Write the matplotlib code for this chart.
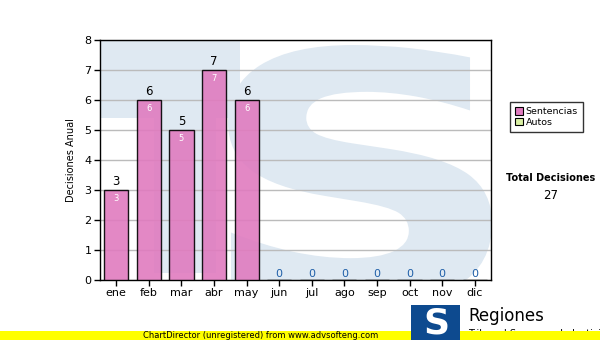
import matplotlib
matplotlib.use('Agg')
import matplotlib.pyplot as plt
from matplotlib.patches import Rectangle, PathPatch
from matplotlib.textpath import TextPath
from matplotlib.font_manager import FontProperties
from matplotlib.transforms import Affine2D

meses = ['ene', 'feb', 'mar', 'abr', 'may', 'jun', 'jul', 'ago', 'sep', 'oct', 'nov', 'dic']
sentencias = [3, 6, 5, 7, 6, 0, 0, 0, 0, 0, 0, 0]
leyenda = ['Sentencias', 'Autos']
colores = ['#e07bbf', '#d9f0a3']
total = sum(sentencias)

W, H = 600, 340
fig = plt.figure(figsize=(6, 3.4), dpi=100)
fig.patch.set_facecolor('white')

def px(x0, y0, x1, y1):
    return [x0 / W, 1 - y1 / H, (x1 - x0) / W, (y1 - y0) / H]

ax = fig.add_axes(px(100, 40, 491, 280))
ax.set_xlim(-0.5, len(meses) - 0.5)
ax.set_ylim(0, 8)

# marca de agua (logo TS claro)
wm = '#dfe9f2'
ax.add_patch(Rectangle((-0.5, 5.4), 4.3, 2.6, color=wm, zorder=0, lw=0))
ax.add_patch(Rectangle((1.16, 0.23), 1.9, 5.2, color=wm, zorder=0, lw=0))
tp = TextPath((0, 0), 'S', size=1, prop=FontProperties(family='DejaVu Sans', weight='bold'))
ext = tp.get_extents()
# caja destino en datos: x 228..492 px, y 45..305 px
dx0, dx1 = (228 - 100) / 32.58 - 0.5, (492 - 100) / 32.58 - 0.5
dy0, dy1 = (280 - 305) / 30, (280 - 45) / 30
tr = Affine2D().translate(-ext.x0, -ext.y0).scale((dx1 - dx0) / ext.width, (dy1 - dy0) / ext.height).translate(dx0, dy0)
ax.add_patch(PathPatch(tr.transform_path(tp), facecolor=wm, lw=0, zorder=0))

ax.yaxis.grid(True, color='#bbbbbb', lw=1, zorder=1)
ax.set_axisbelow(True)

x = range(len(meses))
ax.bar(x, sentencias, width=0.74, color=colores[0], alpha=0.9,
       edgecolor='black', lw=1, zorder=3)

for i, v in enumerate(sentencias):
    if v > 0:
        ax.text(i, v + 0.05, str(v), ha='center', va='bottom', fontsize=8.5, color='black', zorder=4)
        ax.text(i, v - 0.12, str(v), ha='center', va='top', fontsize=6, color='white', zorder=4)
    else:
        ax.text(i, 0.02, '0', ha='center', va='bottom', fontsize=8, color='#1f5fa8', zorder=4)

ax.set_xticks(list(x))
ax.set_xticklabels(meses, fontsize=8)
ax.set_yticks(range(9))
ax.tick_params(axis='y', labelsize=8, length=4, width=1, pad=2)
ax.tick_params(axis='x', length=4, width=1, pad=2)
for s in ax.spines.values():
    s.set_color('black')
    s.set_linewidth(1)
ax.set_ylabel('Decisiones Anual', fontsize=7, labelpad=6)

# leyenda
handles = [Rectangle((0, 0), 1, 1, facecolor=c, edgecolor='black', lw=0.8) for c in colores]
lg = fig.legend(handles, leyenda, loc='upper left', bbox_to_anchor=(510 / W, 1 - 102 / H),
                fontsize=6.8, frameon=True, fancybox=False, edgecolor='black',
                handlelength=0.8, handleheight=0.8, handletextpad=0.3,
                labelspacing=0.2, borderpad=0.55, borderaxespad=0)
lg.get_frame().set_linewidth(1)

fig.text(551 / W, 1 - 178 / H, 'Total Decisiones', ha='center', va='center',
         fontsize=7, fontweight='bold')
fig.text(551 / W, 1 - 196 / H, str(total), ha='center', va='center', fontsize=8.5)

# pie: logo y franja
fig.text(468 / W, 1 - 316 / H, 'Regiones', ha='left', va='center', fontsize=12)
fig.text(468 / W, 1 - 334 / H, 'Tribunal Supremo de Justicia', ha='left', va='center', fontsize=7)
fig.patches.append(Rectangle((0, 0), 1, 9 / H, transform=fig.transFigure,
                             facecolor='#ffff00', lw=0, zorder=5))
fig.text(261 / W, 4.5 / H, 'ChartDirector (unregistered) from www.advsofteng.com',
         ha='center', va='center', fontsize=6, zorder=6)
fig.patches.append(Rectangle((411 / W, 0), 49 / W, 35 / H, transform=fig.transFigure,
                             facecolor='#0d4a8f', lw=0, zorder=7))
fig.text(436 / W, 17 / H, 'S', ha='center', va='center', fontsize=26,
         fontweight='bold', color='white', zorder=8)

fig.savefig('out.png', dpi=100)
